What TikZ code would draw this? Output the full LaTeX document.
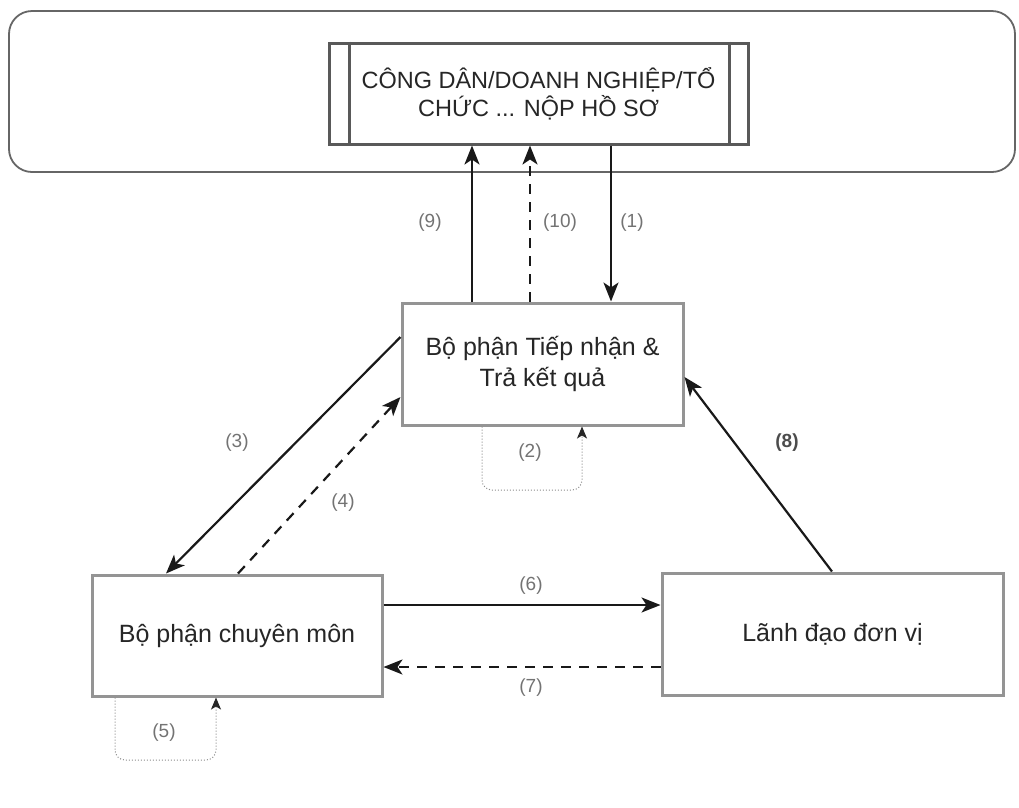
\documentclass[tikz,border=0pt]{standalone}
\usepackage{fontspec}
\setmainfont{Liberation Sans}
\usetikzlibrary{arrows.meta,calc}
\begin{document}
\begin{tikzpicture}[x=1pt,y=-1pt,
  boxstyle/.style={draw=black!42, line width=3pt, fill=white, align=center, inner sep=0pt,
                   font=\fontsize{25}{31}\selectfont, text=black!85},
  lbl/.style={font=\fontsize{19}{23}\selectfont, text=black!55},
  conn/.style={line width=2.2pt, draw=black!90, -{Stealth[length=19pt,width=15pt,inset=5pt]}},
  dconn/.style={conn, dash pattern=on 10pt off 8pt},
  loopline/.style={draw=black!45, line width=1pt, dotted, rounded corners=10pt,
                   -{Stealth[length=12pt,width=10pt,inset=3pt,color=black!85]}}
]
\useasboundingbox (0,0) rectangle (1019,807);
% outer container
\node[draw=black!60, line width=1.8pt, rounded corners=23pt, minimum width=1006pt, minimum height=161pt,
      inner sep=0pt] (outer) at (512,91.5) {};
% top process box
\node[draw=black!65, line width=3pt, fill=white, minimum width=419pt, minimum height=101pt, inner sep=0pt,
      align=center, font=\fontsize{23.5}{28}\selectfont, text=black!85] (top) at (538.5,93.5)
      {CÔNG DÂN/DOANH NGHIỆP/TỔ\\CHỨC ... NỘP HỒ SƠ};
\draw[draw=black!65, line width=2.4pt] ($(top.north west)+(22,0)$) -- ($(top.south west)+(22,0)$);
\draw[draw=black!65, line width=2.4pt] ($(top.north east)+(-20,0)$) -- ($(top.south east)+(-20,0)$);
% main boxes
\node[boxstyle, minimum width=281pt, minimum height=122pt] (mid) at (542.5,364)
      {Bộ phận Tiếp nhận \&\\Trả kết quả};
\node[boxstyle, minimum width=290pt, minimum height=121pt] (bl) at (237,635.5) {Bộ phận chuyên môn};
\node[boxstyle, minimum width=341pt, minimum height=122pt] (br) at (832.5,634) {Lãnh đạo đơn vị};
% helper coordinates
\coordinate (x9) at (472,0);
\coordinate (x10) at (530,0);
\coordinate (x1) at (611,0);
\coordinate (y6) at (0,605);
\coordinate (y7) at (0,667);
\coordinate (y8) at (0,377);
\coordinate (x8) at (832,0);
\coordinate (y3) at (0,337);
\coordinate (x3) at (166,0);
\coordinate (x4) at (238,0);
\coordinate (y4) at (0,397);
% vertical connectors
\draw[conn] (mid.north -| x9) -- (top.south -| x9);
\draw[dconn] (mid.north -| x10) -- (top.south -| x10);
\draw[conn] (top.south -| x1) -- (mid.north -| x1);
\node[lbl] (l9) at (430,223) {(9)};
\node[lbl] (l10) at (560,223) {(10)};
\node[lbl] (l1) at (632,223) {(1)};
% diagonal connectors
\draw[conn] (mid.west |- y3) -- (bl.north -| x3);
\draw[dconn] (bl.north -| x4) -- (mid.west |- y4);
\node[lbl] (l3) at (237,443) {(3)};
\node[lbl] (l4) at (343,503) {(4)};
% horizontal connectors
\draw[conn] (bl.east |- y6) -- (br.west |- y6);
\draw[dconn] (br.west |- y7) -- (bl.east |- y7);
\node[lbl] (l6) at (531,586) {(6)};
\node[lbl] (l7) at (531,688) {(7)};
% (8)
\draw[conn] (br.north -| x8) -- (mid.east |- y8);
\node[lbl, text=black!70, font=\fontsize{19}{23}\selectfont\bfseries] (l8) at (787,443) {(8)};
% self loops
\coordinate (a2) at (482,0);
\coordinate (b2) at (582,0);
\draw[loopline] (mid.south -| a2) -- (482,490) -- (582,490) -- (mid.south -| b2);
\node[lbl] (l2) at (530,453) {(2)};
\coordinate (a5) at (115,0);
\coordinate (b5) at (216,0);
\draw[loopline] (bl.south -| a5) -- (115,760) -- (216,760) -- (bl.south -| b5);
\node[lbl] (l5) at (164,733) {(5)};
\end{tikzpicture}
\end{document}
